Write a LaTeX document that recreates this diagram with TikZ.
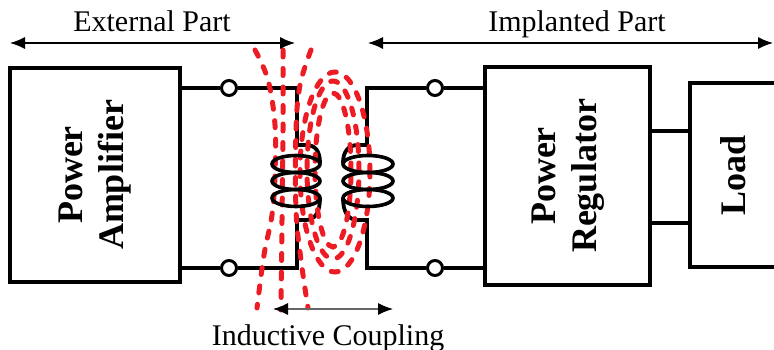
\documentclass[tikz,border=0pt]{standalone}
\usepackage{fontspec}
\setmainfont{Liberation Serif}
\usetikzlibrary{arrows.meta}
\definecolor{fieldred}{RGB}{237,28,36}
\begin{document}
\begin{tikzpicture}[x=1pt,y=-1pt,
  wire/.style={line width=3.8pt, line join=miter},
  blockbox/.style={draw, line width=3.8pt, inner sep=0pt, font=\fontsize{36}{41}\selectfont\bfseries},
  blocktext/.style={inner sep=0pt, font=\fontsize{36}{41}\selectfont\bfseries},
  term/.style={circle, draw, fill=white, line width=3pt, minimum size=15pt, inner sep=0pt},
  field/.style={draw=fieldred, line width=5pt, line cap=round, dash pattern=on 7pt off 11.5pt},
  span/.style={line width=1.2pt, {Latex[length=15pt,width=12pt,color=black]}-{Latex[length=15pt,width=12pt,color=black]}},
  lbl/.style={font=\fontsize{30}{34}\selectfont, anchor=base},
  coilline/.style={line width=3.6pt}]
\useasboundingbox (0,0) rectangle (774,350);
\clip (0,0) rectangle (774,350);
\fill[white] (0,0) rectangle (774,350);

% blocks
\node[blockbox, minimum width=170pt, minimum height=214pt] (pa) at (95,175)
  {\rotatebox{90}{\begin{tabular}{@{}c@{}}Power\\Amplifier\end{tabular}}};
\node[blockbox, minimum width=165pt, minimum height=218pt] (pr) at (567.5,176)
  {\rotatebox{90}{\begin{tabular}{@{}c@{}}Power\\Regulator\end{tabular}}};
\node[blockbox, minimum width=110pt, minimum height=184pt] (ld) at (745,175) {};
\node[blocktext] (ldt) at (733,175) {\rotatebox{90}{Load}};

% terminals
\node[term] (t1) at (229,88) {};
\node[term] (t2) at (229,268) {};
\node[term] (t3) at (435,88) {};
\node[term] (t4) at (435,268) {};

% corner coordinates
\coordinate (a1) at (297,88);
\coordinate (a2) at (297,145);
\coordinate (a3) at (297,220);
\coordinate (a4) at (297,268);
\coordinate (b1) at (367,88);
\coordinate (b2) at (367,145);
\coordinate (b3) at (367,220);
\coordinate (b4) at (367,268);
\coordinate (r1) at (650,131);
\coordinate (r2) at (650,223);

% wires
\draw[wire] (pa.east |- t1) -- (t1);
\draw[wire] (pa.east |- t2) -- (t2);
\draw[wire] (t1) -- (a1) -- (a2) -- (306,145) .. controls (316,145) and (320,152) .. (320,163);
\draw[wire] (320,198) .. controls (320,212) and (315,220) .. (306,220) -- (a3) -- (a4) -- (t2);
\draw[wire] (t3) -- (b1) -- (b2) -- (358,145) .. controls (348,145) and (343,152) .. (343,163);
\draw[wire] (343,198) .. controls (343,212) and (348,220) .. (358,220) -- (b3) -- (b4) -- (t4);
\draw[wire] (t3) -- (pr.west |- t3);
\draw[wire] (t4) -- (pr.west |- t4);
\draw[wire] (r1) -- (r1 -| ld.west);
\draw[wire] (r2) -- (r2 -| ld.west);

% magnetic field lines
\draw[field] plot[smooth, tension=0.6] coordinates {(255,50) (268,80) (275,125) (275,175) (272,215) (264,255) (257,308)};
\draw[field] plot[smooth, tension=0.6] coordinates {(283,50) (283,130) (282,220) (281,310)};
\draw[field] plot[smooth, tension=0.6] coordinates {(311,50) (300,85) (296,130) (296,210) (301,260) (308,308)};
\draw[field] (335,172) ellipse [x radius=35pt, y radius=100pt];
\draw[field] (333,170) ellipse [x radius=26pt, y radius=89pt];
\draw[field] (333,170) ellipse [x radius=18pt, y radius=77pt];

% coils
\foreach \yy in {164,181,198} {
  \draw[coilline] (296,\yy) ellipse [x radius=24pt, y radius=8.5pt];
  \draw[coilline] (368,\yy) ellipse [x radius=25pt, y radius=8.5pt];
}

% span arrows and labels
\coordinate (e1) at (10,43);
\coordinate (e2) at (295,43);
\draw[span] (e1) -- (e2);
\node[lbl] (ext) at (152,32) {External Part};
\coordinate (i1) at (368,43);
\coordinate (i2) at (773,43);
\draw[span] (i1) -- (i2);
\node[lbl] (imp) at (577,32) {Implanted Part};
\coordinate (c1) at (273,309);
\coordinate (c2) at (393,309);
\draw[span, draw=black!60] (c1) -- (c2);
\node[lbl] (ind) at (328,345) {Inductive Coupling};
\end{tikzpicture}
\end{document}
